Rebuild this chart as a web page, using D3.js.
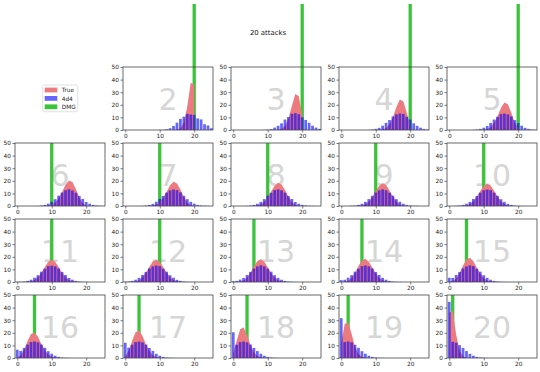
<!DOCTYPE html>
<html>
<head>
<meta charset="utf-8">
<style>
    body { margin: 0; background: #fff; }
    text { font-family: "DejaVu Sans", sans-serif; }
    .tick text { font-size: 5.8px; fill: #222; }
    .tick line { stroke: #444; stroke-width: 0.7; }
    .big { font-size: 30px; fill: #d6d6d6; text-anchor: middle; }
    .title { font-size: 6.9px; fill: #111; text-anchor: middle; }
    .legend text { font-size: 5.8px; fill: #222; }
</style>
<script src="https://cdn.jsdelivr.net/npm/d3@7"></script>
</head>
<body>
<svg width="540" height="372"></svg>
<script>
// armour class shown in each panel
var acs = [2, 3, 4, 5, 6, 7, 8, 9, 10, 11, 12, 13, 14, 15, 16, 17, 18, 19, 20];
// green DMG marker
var dmg = [20, 20, 20, 20, 10, 10, 10, 10, 10, 10, 10, 6, 6, 5, 5, 4, 4, 2, 1];

// "True" curve, % at x = 0..20
var trueVals = [
    [0,0,0,0,0,0,0,0,0,0,0,0,0,0,0,0.2,1.3,6.0,18.9,37.7,35.8],
    [0,0,0,0,0,0,0,0,0,0,0,0,0,0.2,0.9,3.2,9.0,19.0,28.5,27.0,12.2],
    [0,0,0,0,0,0,0,0,0,0,0,0.1,0.5,1.6,4.5,10.3,18.2,24.3,22.9,13.7,3.9],
    [0,0,0,0,0,0,0,0,0,0,0.2,0.7,2.2,5.5,10.9,17.5,21.8,20.5,13.7,5.8,1.2],
    [0,0,0,0,0,0,0,0,0.1,0.3,1.0,2.7,6.1,11.2,16.9,20.2,19.0,13.4,6.7,2.1,0.3],
    [0,0,0,0,0,0,0,0.1,0.4,1.2,3.1,6.5,11.4,16.4,19.2,17.9,13.0,7.2,2.8,0.7,0.1],
    [0,0,0,0,0,0,0.1,0.5,1.4,3.4,6.9,11.6,16.1,18.4,17.1,12.7,7.4,3.2,1.0,0.2,0],
    [0,0,0,0,0,0.1,0.5,1.5,3.6,7.1,11.7,16.0,18.0,16.6,12.4,7.5,3.5,1.2,0.3,0.1,0],
    [0,0,0,0,0.1,0.5,1.5,3.7,7.3,11.9,15.9,17.7,16.2,12.2,7.5,3.7,1.4,0.4,0.1,0,0],
    [0,0,0,0.1,0.5,1.5,3.7,7.4,12.0,16.0,17.6,16.0,12.0,7.4,3.7,1.5,0.5,0.1,0,0,0],
    [0,0,0.1,0.4,1.4,3.7,7.5,12.2,16.2,17.7,15.9,11.9,7.3,3.7,1.5,0.5,0.1,0,0,0,0],
    [0,0.1,0.3,1.2,3.5,7.5,12.4,16.6,18.0,16.0,11.7,7.1,3.6,1.5,0.5,0.1,0,0,0,0,0],
    [0,0.2,1.0,3.2,7.4,12.7,17.1,18.4,16.1,11.6,6.9,3.4,1.4,0.5,0.1,0,0,0,0,0,0],
    [0.1,0.7,2.8,7.2,13.0,17.9,19.2,16.4,11.4,6.5,3.1,1.2,0.4,0.1,0,0,0,0,0,0,0],
    [0.3,2.1,6.7,13.4,19.0,20.2,16.9,11.2,6.1,2.7,1.0,0.3,0.1,0,0,0,0,0,0,0,0],
    [1.2,5.8,13.7,20.5,21.8,17.5,10.9,5.5,2.2,0.7,0.2,0,0,0,0,0,0,0,0,0,0],
    [3.9,13.7,22.9,24.3,18.2,10.3,4.5,1.6,0.5,0.1,0,0,0,0,0,0,0,0,0,0,0],
    [12.2,27.0,28.5,19.0,9.0,3.2,0.9,0.2,0,0,0,0,0,0,0,0,0,0,0,0,0],
    [35.8,37.7,18.9,6.0,1.3,0.2,0,0,0,0,0,0,0,0,0,0,0,0,0,0,0]
];

// "4d4" bars, % at x = 0, 1, 2 ...
var diceVals = [
    [0,0,0,0,0,0,0,0,0,0,0.1,0.2,0.6,1.4,3.2,5.8,8.8,10.6,12.8,12.3,12.0,9.2,8.4,4.6,3.6,1.4],
    [0,0,0,0,0,0,0,0,0,0.1,0.3,0.8,1.9,3.4,5.3,8.3,10.3,12.9,13.4,12.6,10.1,8.0,5.7,3.4,1.9,0.9],
    [0,0,0,0,0,0,0,0,0.1,0.4,0.9,1.7,3.4,5.7,7.9,10.8,12.4,13.1,12.7,10.4,8.3,5.3,3.3,1.8,0.9,0.4],
    [0,0,0,0,0,0,0,0.1,0.4,0.9,1.8,3.2,5.6,8.3,10.5,12.6,13.0,12.4,10.7,7.9,5.5,3.4,1.7,0.9,0.4,0.2],
    [0,0,0,0,0,0,0.1,0.4,0.9,1.9,3.3,5.4,8.2,10.7,12.5,13.3,12.3,10.5,8.0,5.6,3.2,1.8,0.9,0.4,0.2,0.1],
    [0,0,0,0,0,0.1,0.4,0.9,1.7,3.4,5.6,8.0,10.6,12.4,13.1,12.6,10.8,8.1,5.4,3.3,1.9,0.9,0.4,0.2,0.1],
    [0,0,0,0,0.1,0.4,0.9,1.8,3.3,5.5,8.2,10.5,12.6,13.2,12.4,10.6,8.0,5.6,3.2,1.8,0.9,0.4,0.2,0.1],
    [0,0,0,0.2,0.4,0.9,1.8,3.3,5.5,8.1,10.7,12.4,13.2,12.5,10.5,8.2,5.4,3.4,1.8,0.9,0.4,0.2,0.1],
    [0,0,0.2,0.4,0.9,1.8,3.3,5.6,8.0,10.6,12.5,13.1,12.6,10.6,8.1,5.4,3.3,1.7,0.9,0.4,0.2,0.1],
    [0.1,0.2,0.4,0.9,1.8,3.4,5.4,8.2,10.5,12.6,13.0,12.4,10.7,8.0,5.6,3.2,1.8,0.9,0.4,0.2,0.1],
    [0.2,0.4,0.9,1.8,3.3,5.6,8.0,10.7,12.4,13.1,12.6,10.5,8.2,5.4,3.4,1.7,0.9,0.4,0.2,0.1],
    [0.6,0.9,1.9,3.2,5.6,8.0,10.7,12.4,13.3,12.4,10.6,8.2,5.4,3.3,1.8,0.9,0.4,0.2,0.1],
    [1.5,1.8,3.4,5.4,8.2,10.5,12.6,13.1,12.4,10.7,8.0,5.6,3.3,1.8,0.9,0.4,0.2,0.1],
    [3.4,3.2,5.6,8.0,10.7,12.4,13.2,12.6,10.5,8.2,5.4,3.3,1.8,0.9,0.4,0.2,0.1],
    [6.6,5.6,8.0,10.6,12.6,13.1,12.4,10.7,8.1,5.4,3.4,1.8,0.9,0.4,0.2,0.1],
    [12.1,8.2,10.5,12.6,13.1,12.4,10.7,8.0,5.6,3.3,1.8,0.9,0.4,0.2,0.1],
    [20.4,10.5,12.6,13.1,12.4,10.7,8.0,5.5,3.4,1.8,0.9,0.4,0.2,0.1],
    [31.6,12.6,13.1,12.4,10.5,8.1,5.4,3.4,1.8,0.9,0.4,0.2,0.1],
    [44.6,12.9,12.1,10.2,8.0,5.5,3.3,1.8,0.9,0.4,0.2,0.1]
];

var xTicks = [0, 10, 20];
var yTicks = [0, 10, 20, 30, 40, 50];
var legendLabels = ["True", "4d4", "DMG"];

var red = "#ec7b80", blue = "rgba(0,0,255,0.6)", green = "#3cc33c";

var svg = d3.select("svg");
var colLeft = [15, 123, 231, 339, 447],
    rowTop = [67, 143, 219, 295],
    pw = 90, ph = 63;

var x = d3.scaleLinear().domain([-0.65, 25.45]).range([0, pw]);
var y = d3.scaleLinear().domain([0, 50]).range([ph, 0]);

var area = d3.area()
    .x(function (d, i) { return x(i); })
    .y0(y(0))
    .y1(function (d) { return y(d); });

svg.append("text")
    .attr("class", "title")
    .attr("x", 268).attr("y", 35.2)
    .text("20 attacks");

acs.forEach(function (ac, i) {
    var slot = i + 1,
        row = Math.floor(slot / 5),
        col = slot % 5;

    var g = svg.append("g")
        .attr("transform", "translate(" + colLeft[col] + "," + rowTop[row] + ")");

    g.append("clipPath").attr("id", "clip" + i)
        .append("rect").attr("width", pw).attr("height", ph);

    g.append("text")
        .attr("class", "big")
        .attr("x", pw / 2).attr("y", ph / 2 + 11)
        .text(ac);

    // top row lines run out of the axes, the rest are clipped
    var line = g.append("line")
        .attr("x1", x(dmg[i])).attr("x2", x(dmg[i]))
        .attr("y1", y(0)).attr("y2", y(100))
        .attr("stroke", green)
        .attr("stroke-width", 3.3);
    if (row > 0) line.attr("clip-path", "url(#clip" + i + ")");

    g.append("path")
        .datum(trueVals[i])
        .attr("d", area)
        .attr("fill", red)
        .attr("clip-path", "url(#clip" + i + ")");

    g.selectAll(".bar")
        .data(diceVals[i].map(function (v, k) { return { k: k, v: v }; })
            .filter(function (d) { return d.v > 0; }))
        .enter().append("rect")
        .attr("class", "bar")
        .attr("x", function (d) { return x(d.k - 0.4); })
        .attr("width", x(0.8) - x(0))
        .attr("y", function (d) { return y(d.v); })
        .attr("height", function (d) { return y(0) - y(d.v); })
        .attr("fill", blue)
        .attr("clip-path", "url(#clip" + i + ")");

    g.append("g")
        .attr("transform", "translate(0," + ph + ")")
        .call(d3.axisBottom(x).tickValues(xTicks).tickSize(2.5).tickPadding(1.5))
        .call(function (a) { a.select(".domain").remove(); });

    g.append("g")
        .call(d3.axisLeft(y).tickValues(yTicks).tickSize(2.5).tickPadding(1.5))
        .call(function (a) { a.select(".domain").remove(); });

    g.append("rect")
        .attr("width", pw).attr("height", ph)
        .attr("fill", "none")
        .attr("stroke", "#444")
        .attr("stroke-width", 0.8);
});

// legend sits in the empty first slot
var lg = svg.append("g").attr("class", "legend");
lg.append("rect")
    .attr("x", 42.7).attr("y", 85).attr("width", 35).attr("height", 26.7)
    .attr("rx", 1.5)
    .attr("fill", "#fff").attr("stroke", "#d5d5d5").attr("stroke-width", 0.7);

var legendColors = [red, blue, green];
legendLabels.forEach(function (name, i) {
    var cy = 90 + i * 8.4;
    lg.append("rect")
        .attr("x", 44.7).attr("y", cy - 2.4).attr("width", 12.6).attr("height", 4.8)
        .attr("fill", legendColors[i]);
    lg.append("text")
        .attr("x", 61.7).attr("y", cy + 2.1)
        .text(name);
});
</script>
</body>
</html>
